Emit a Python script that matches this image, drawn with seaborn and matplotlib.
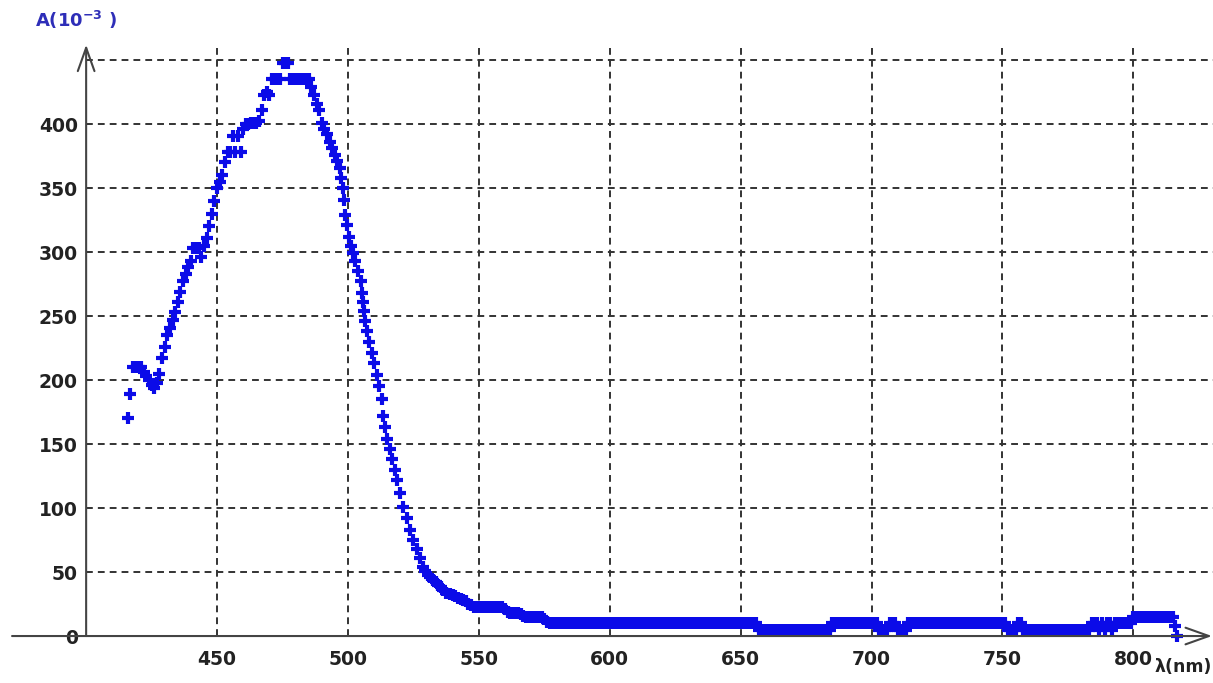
import matplotlib
matplotlib.use("Agg")
import matplotlib.pyplot as plt
import seaborn as sns

# Absorbance spectrum, A in units of 1e-3, wavelength in nm
# main band (416-580 nm)
wavelength = [
    416, 416.8, 418, 419, 420, 421, 422, 423, 424, 425, 426, 427, 428, 429,
    430, 431, 432, 433, 434, 435, 436, 437, 438, 439, 440, 441, 442, 443,
    444, 445, 446, 447, 448, 449, 450, 451, 452, 453, 454, 455, 456, 457,
    458, 459, 460, 461, 462, 463, 464, 465, 466, 467, 468, 469, 470, 471,
    472, 473, 474, 475, 476, 477, 478, 479, 480, 481, 482, 483, 484, 485,
    486, 487, 488, 489, 490, 491, 492, 493, 494, 495, 496, 497, 497.5, 498,
    498.5, 499, 499.7, 500.4, 501, 502, 502.7, 504, 505, 505.4, 505.7, 506,
    506.7, 507.3, 508, 509, 510, 511, 512, 513, 513.5, 514.3, 515, 516, 517,
    518, 518.8, 519.8, 521, 522.4, 523.7, 525, 526.4, 527.5, 528.7, 529.5,
    530.5, 531.5, 532.5, 533.5, 534.5, 535.5, 536.3, 537.5, 539, 540, 541, 542,
    543, 544, 545, 546, 547, 548, 549, 550, 551, 552, 553, 554, 555, 556,
    557, 558, 559, 560, 561, 562, 563, 564, 565, 566, 567, 568, 569, 570,
    571, 572, 573, 574, 575, 576, 577, 578, 579, 580,
]
absorbance = [
    170, 189, 210, 210, 210, 210, 206, 203, 200, 196, 194, 198, 205, 217,
    226, 235, 241, 247, 253, 261, 269, 277, 283, 288, 293, 303, 303, 303,
    296, 305, 311, 320, 330, 340, 350, 355, 360, 370, 378, 378, 391, 378,
    391, 378, 396, 400, 400, 401, 401, 401, 402, 411, 423, 425, 423, 435,
    435, 435, 435, 448, 448, 448, 435, 435, 435, 435, 435, 435, 435, 435,
    429, 423, 416, 411, 401, 396, 392, 386, 381, 376, 371, 366, 358, 350,
    341, 329, 321, 312, 305, 299, 293, 285, 277, 268, 261, 254,
    246, 238, 230, 221, 213, 204, 195, 185, 172, 163, 154, 146, 138,
    130, 122, 112, 101, 92, 83, 75, 68, 61, 54, 51,
    48, 46, 44, 42, 40, 38, 36, 34, 33, 32, 31, 30,
    29, 28, 27, 25, 24, 23, 23, 23, 23, 23, 23, 23, 23, 23,
    23, 23, 23, 21, 19, 18, 18, 18, 18, 17, 16, 15, 15, 15,
    15, 15, 15, 15, 13, 11, 10, 10, 10, 10,
]

# baseline tail (581-817 nm)
tail_wavelength = [
    581, 582, 583, 584, 585, 586, 587, 588, 589, 590,
    591, 592, 593, 594, 595, 596, 597, 598, 599, 600,
    601, 602, 603, 604, 605, 606, 607, 608, 609, 610,
    611, 612, 613, 614, 615, 616, 617, 618, 619, 620,
    621, 622, 623, 624, 625, 626, 627, 628, 629, 630,
    631, 632, 633, 634, 635, 636, 637, 638, 639, 640,
    641, 642, 643, 644, 645, 646, 647, 648, 649, 650,
    651, 652, 653, 654, 655, 656, 657, 658, 659, 660,
    661, 662, 663, 664, 665, 666, 667, 668, 669, 670,
    671, 672, 673, 674, 675, 676, 677, 678, 679, 680,
    681, 682, 683, 684, 685, 686, 687, 688, 689, 690,
    691, 692, 693, 694, 695, 696, 697, 698, 699, 700,
    701, 702, 703, 704, 705, 706, 707, 708, 709, 710,
    711, 712, 713, 714, 715, 716, 717, 718, 719, 720,
    721, 722, 723, 724, 725, 726, 727, 728, 729, 730,
    731, 732, 733, 734, 735, 736, 737, 738, 739, 740,
    741, 742, 743, 744, 745, 746, 747, 748, 749, 750,
    751, 752, 753, 754, 755, 756, 757, 758, 759, 760,
    761, 762, 763, 764, 765, 766, 767, 768, 769, 770,
    771, 772, 773, 774, 775, 776, 777, 778, 779, 780,
    781, 782, 783, 784, 785, 786, 787, 788, 789, 790,
    791, 792, 793, 794, 795, 796, 797, 798, 799, 800,
    801, 802, 803, 804, 805, 806, 807, 808, 809, 810,
    811, 812, 813, 814, 815, 816, 816.5,
]
tail_absorbance = [
    10, 10, 10, 10, 10, 10, 10, 10, 10, 10,
    10, 10, 10, 10, 10, 10, 10, 10, 10, 10,
    10, 10, 10, 10, 10, 10, 10, 10, 10, 10,
    10, 10, 10, 10, 10, 10, 10, 10, 10, 10,
    10, 10, 10, 10, 10, 10, 10, 10, 10, 10,
    10, 10, 10, 10, 10, 10, 10, 10, 10, 10,
    10, 10, 10, 10, 10, 10, 10, 10, 10, 10,
    10, 10, 10, 10, 10, 10, 5, 5, 5, 5,
    5, 5, 5, 5, 5, 5, 5, 5, 5, 5,
    5, 5, 5, 5, 5, 5, 5, 5, 5, 5,
    5, 5, 5, 5, 10, 10, 10, 10, 10, 10,
    10, 10, 10, 10, 10, 10, 10, 10, 10, 10,
    10, 10, 5, 5, 5, 5, 10, 10, 10, 5,
    5, 5, 5, 10, 10, 10, 10, 10, 10, 10,
    10, 10, 10, 10, 10, 10, 10, 10, 10, 10,
    10, 10, 10, 10, 10, 10, 10, 10, 10, 10,
    10, 10, 10, 10, 10, 10, 10, 10, 10, 10,
    10, 5, 5, 5, 5, 10, 10, 5, 5, 5,
    5, 5, 5, 5, 5, 5, 5, 5, 5, 5,
    5, 5, 5, 5, 5, 5, 5, 5, 5, 5,
    5, 5, 5, 10, 10, 10, 5, 10, 5, 10,
    10, 5, 10, 10, 10, 10, 10, 10, 10, 15,
    15, 15, 15, 15, 15, 15, 15, 15, 15, 15,
    15, 15, 15, 15, 15, 8, 0,
]

x_ticks = [450, 500, 550, 600, 650, 700, 750, 800]
y_ticks = [0, 50, 100, 150, 200, 250, 300, 350, 400]
grid_y = [50, 100, 150, 200, 250, 300, 350, 400, 450]

sns.set_style("white")
plt.rcParams['font.family'] = ['DejaVu Sans']

fig = plt.figure(figsize=(12.13, 6.83), dpi=100)
ax = fig.add_axes([0, 0, 1, 1])
ax.set_xlim(367.1, 830.4)
ax.set_ylim(-36.7, 496.9)

# dashed grid, only inside the positive quadrant
dash = (0, (3.5, 2.6))
ax.hlines(grid_y, 400, 830.4, colors='#333333', linestyles=dash, linewidth=1.4, zorder=1)
ax.vlines(x_ticks, 0, 463, colors='#333333', linestyles=dash, linewidth=1.4, zorder=1)

all_wl = wavelength + tail_wavelength
all_abs = absorbance + tail_absorbance
sns.scatterplot(x=all_wl, y=all_abs, marker='+', s=85, color='#0b0be8',
                linewidth=3.0, ax=ax, zorder=3)

# axes with arrow heads
arrow = dict(arrowstyle='->,head_length=1.4,head_width=0.5', color='#444444',
             lw=1.5, shrinkA=0, shrinkB=0, mutation_scale=12)
ax.annotate('', xy=(400, 462), xytext=(400, 0), arrowprops=arrow)
ax.annotate('', xy=(830.0, 0), xytext=(371.7, 0), arrowprops=arrow)

for s in ax.spines.values():
    s.set_visible(False)
ax.spines['left'].set_position(('data', 400))
ax.spines['bottom'].set_position(('data', 0))
ax.set_xticks(x_ticks)
ax.set_yticks(y_ticks)
ax.tick_params(axis='y', length=0, labelsize=13.5, colors='#222222', pad=6)
ax.tick_params(axis='x', length=0, labelsize=13.5, colors='#222222', pad=10)
for lbl in ax.get_xticklabels() + ax.get_yticklabels():
    lbl.set_fontweight('bold')

fig.text(35 / 1213, 1 - 20 / 683, r'A(10$^{\mathbf{-3}}$ )', fontsize=13,
         fontweight='bold', color='#2e2eb8', va='center', ha='left')
fig.text(1212 / 1213, 1 - 667 / 683, 'λ(nm)', fontsize=12.5, fontweight='bold',
         color='#222222', va='center', ha='right')

fig.savefig('out.png', dpi=100)
